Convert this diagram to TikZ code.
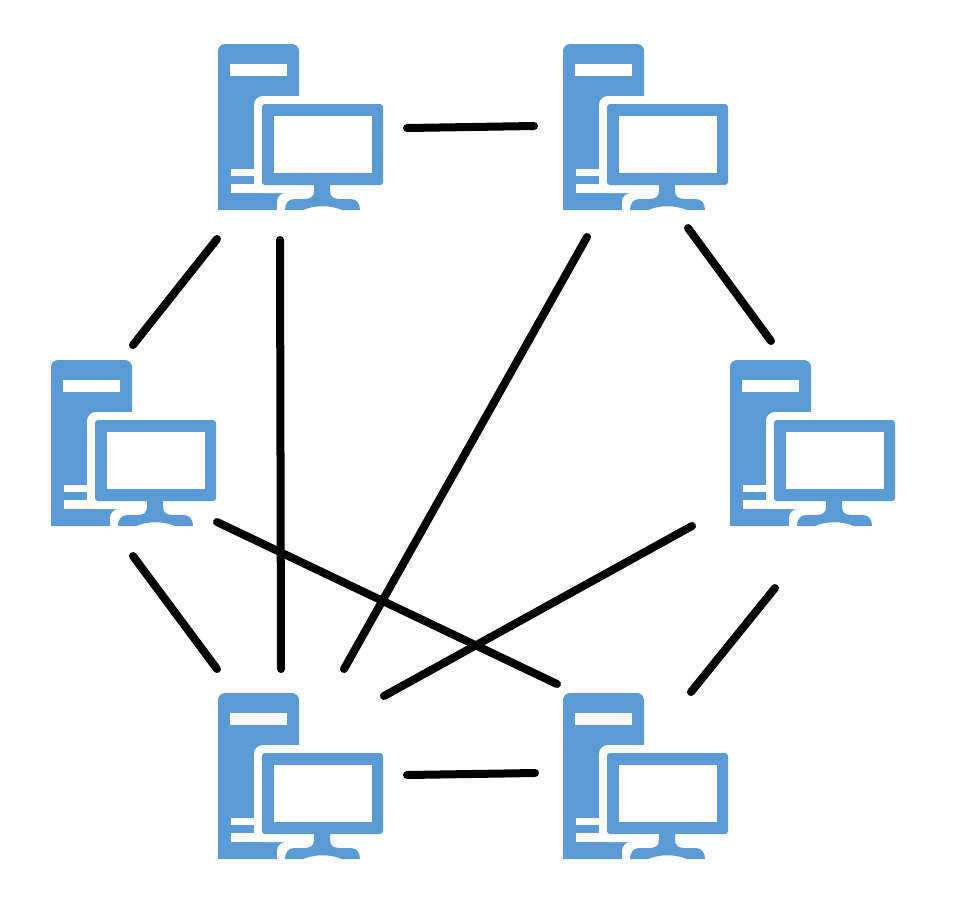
\documentclass[tikz,border=0pt]{standalone}
\usepackage{tikz}
\usetikzlibrary{positioning}

\definecolor{pcblue}{HTML}{5B9BD5}

\tikzset{
  link/.style={line width=0.08cm, line cap=round, black},
  computer/.pic={
    % tower
    \fill[pcblue] (0, 166) -- (0, 7) arc[start angle=180, end angle=270, radius=7]
      -- (74, 0) arc[start angle=270, end angle=360, radius=7] -- (81, 166) -- cycle;
    \fill[white] (12, 20) rectangle (69, 32);
    \fill[white] (13, 125) rectangle (40, 132);
    \fill[white] (13, 140) rectangle (70, 149);
    % halo round the monitor
    \fill[white, rounded corners=0.09cm] (36, 52) rectangle (100, 149);
    \fill[white] (81, 52) rectangle (90, 167);
    \fill[white] (59, 167) -- (59, 158) arc[start angle=180, end angle=270, radius=9]
      -- (90, 149) -- (90, 167) -- cycle;
    % monitor
    \fill[pcblue, rounded corners=0.03cm] (44, 60) rectangle (165, 141);
    \fill[white] (56, 72) rectangle (154, 129);
    % stand
    \fill[pcblue] (96, 140) -- (112, 140) -- (112, 147)
      .. controls (112, 153) and (116, 155) .. (122, 155) -- (133, 155)
      .. controls (139, 155) and (142, 160) .. (142, 166) -- (124, 166)
      .. controls (112, 161) and (97, 161) .. (85, 166) -- (67, 166)
      .. controls (67, 160) and (70, 155) .. (76, 155) -- (86, 155)
      .. controls (92, 155) and (96, 153) .. (96, 147) -- cycle;
  }
}

\begin{document}
\begin{tikzpicture}[x=0.01cm, y=-0.01cm]
  \useasboundingbox (0, 0) rectangle (972, 917);

  \coordinate (pcTopLeft) at (218, 44);
  \coordinate (pcTopRight) at (563, 44);
  \coordinate (pcMidLeft) at (51, 360);
  \coordinate (pcMidRight) at (730, 360);
  \coordinate (pcLowLeft) at (218, 693);
  \coordinate (pcLowRight) at (563, 693);

  \foreach \pc in {pcTopLeft, pcTopRight, pcMidLeft, pcMidRight, pcLowLeft, pcLowRight}
    \pic at (\pc) {computer};

  % loose ends of the links
  \coordinate (ab1) at (407, 128);  \coordinate (ab2) at (534, 126);
  \coordinate (ac1) at (217, 239);  \coordinate (ac2) at (133, 345);
  \coordinate (ae1) at (280, 240);  \coordinate (ae2) at (281, 669);
  \coordinate (be1) at (587, 237);  \coordinate (be2) at (344, 669);
  \coordinate (bd1) at (688, 228);  \coordinate (bd2) at (771, 341);
  \coordinate (ce1) at (133, 556);  \coordinate (ce2) at (217, 669);
  \coordinate (cf1) at (217, 522);  \coordinate (cf2) at (557, 684);
  \coordinate (de1) at (692, 526);  \coordinate (de2) at (384, 696);
  \coordinate (df1) at (775, 588);  \coordinate (df2) at (691, 692);
  \coordinate (ef1) at (407, 775);  \coordinate (ef2) at (535, 773);

  \foreach \ends in {ab, ac, ae, be, bd, ce, cf, de, df, ef}
    \draw[link] (\ends1) -- (\ends2);
\end{tikzpicture}
\end{document}
